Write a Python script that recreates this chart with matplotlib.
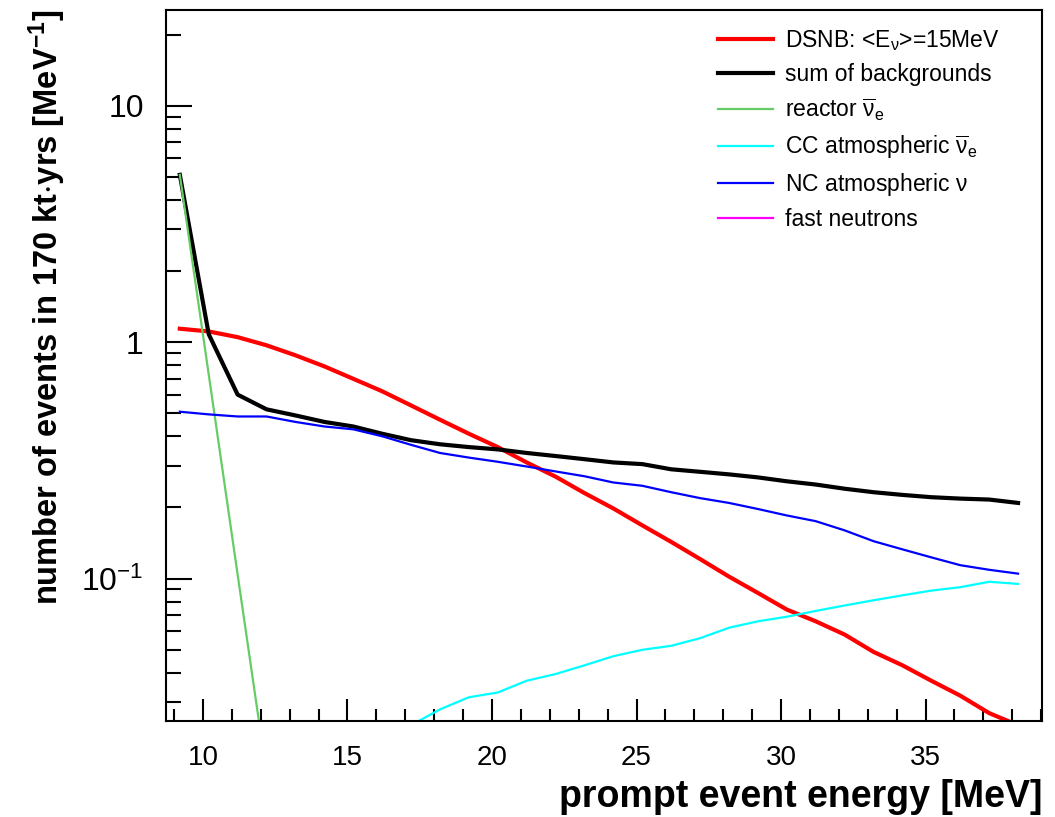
import matplotlib
matplotlib.use("Agg")
import matplotlib.pyplot as plt
from matplotlib.ticker import FixedLocator, FixedFormatter, NullFormatter

plt.rcParams['font.family'] = ['Liberation Sans', 'DejaVu Sans']
plt.rcParams['mathtext.default'] = 'regular'

# bin centres [MeV]
energy = [9.2, 10.2, 11.2, 12.2, 13.2, 14.2, 15.2, 16.2, 17.2, 18.2,
          19.2, 20.2, 21.2, 22.2, 23.2, 24.2, 25.2, 26.2, 27.2, 28.2,
          29.2, 30.2, 31.2, 32.2, 33.2, 34.2, 35.2, 36.2, 37.2, 38.2]

dsnb = [1.14, 1.11, 1.05, 0.97, 0.88, 0.79, 0.70, 0.62, 0.54, 0.47,
        0.41, 0.36, 0.31, 0.27, 0.23, 0.198, 0.168, 0.143, 0.121, 0.102,
        0.087, 0.074, 0.066, 0.058, 0.049, 0.043, 0.037, 0.032, 0.027, 0.024]

background_sum = [5.1, 1.08, 0.60, 0.52, 0.49, 0.46, 0.44, 0.41, 0.385, 0.37,
                  0.36, 0.352, 0.34, 0.33, 0.32, 0.31, 0.305, 0.29, 0.283, 0.276,
                  0.268, 0.258, 0.25, 0.24, 0.232, 0.226, 0.221, 0.218, 0.216, 0.209]

reactor = [5.1, 0.73, 0.104, 0.015]

cc_atmo = [0.009, 0.010, 0.012, 0.013, 0.015, 0.017, 0.019, 0.021, 0.024, 0.028,
           0.0315, 0.033, 0.037, 0.0395, 0.043, 0.047, 0.050, 0.052, 0.056, 0.062,
           0.066, 0.069, 0.073, 0.077, 0.081, 0.085, 0.089, 0.092, 0.097, 0.095]

nc_atmo = [0.508, 0.495, 0.485, 0.485, 0.46, 0.44, 0.428, 0.40, 0.368, 0.34,
           0.325, 0.312, 0.298, 0.284, 0.271, 0.255, 0.247, 0.232, 0.219, 0.209,
           0.197, 0.185, 0.175, 0.16, 0.144, 0.133, 0.123, 0.114, 0.109, 0.105]

# fast neutrons lie entirely below the plotted range
fast_neutrons = []

fig = plt.figure(figsize=(10.55, 8.17), dpi=100)
ax = fig.add_axes([0.1573, 0.1175, 0.8304, 0.8703])

ax.plot(energy, dsnb, color='#ff0000', lw=3, label=r'DSNB: <E$_{\nu}$>=15MeV')
ax.plot(energy, background_sum, color='black', lw=3, label='sum of backgrounds')
ax.plot(energy[:len(reactor)], reactor, color='#66cc66', lw=1.6,
        label=r'reactor $\overline{\nu}_{e}$')
ax.plot(energy, cc_atmo, color='#00ffff', lw=1.6,
        label=r'CC atmospheric $\overline{\nu}_{e}$')
ax.plot(energy, nc_atmo, color='#0000ff', lw=1.6, label=r'NC atmospheric $\nu$')
ax.plot(energy[:len(fast_neutrons)], fast_neutrons, color='#ff00ff', lw=1.6,
        label='fast neutrons')

ax.set_yscale('log')
ax.set_xlim(8.72, 39.03)
ax.set_ylim(0.025, 25.4)

# ticks, ROOT style: inward, only on left and bottom
ax.xaxis.set_major_locator(FixedLocator([10, 15, 20, 25, 30, 35]))
ax.xaxis.set_minor_locator(FixedLocator(list(range(9, 40))))
ax.yaxis.set_major_locator(FixedLocator([0.1, 1, 10]))
ax.yaxis.set_major_formatter(FixedFormatter(['$10^{-1}$', '1', '10']))
ax.yaxis.set_minor_locator(FixedLocator(
    [m * 10.0 ** d for d in (-2, -1, 0, 1) for m in range(2, 10)]))
ax.yaxis.set_minor_formatter(NullFormatter())

ax.tick_params(axis='x', which='major', direction='in', length=16, width=1.5,
               labelsize=20, pad=17)
ax.tick_params(axis='x', which='minor', direction='in', length=8.5, width=1.5)
ax.tick_params(axis='y', which='major', direction='in', length=19, width=1.5,
               labelsize=23, pad=16)
ax.tick_params(axis='y', which='minor', direction='in', length=11, width=1.5)
for s in ax.spines.values():
    s.set_linewidth(1.5)

ax.set_xlabel('prompt event energy [MeV]', fontsize=27, fontweight='bold')
ax.xaxis.set_label_coords(1.0, -0.082)
ax.xaxis.label.set_ha('right')
ax.set_ylabel(r'number of events in 170 kt$\cdot$yrs [MeV$^{-1}$]', fontsize=23.5,
              fontweight='bold')
ax.yaxis.set_label_coords(-0.112, 1.0)
ax.yaxis.label.set_ha('right')

ax.legend(loc='upper left', bbox_to_anchor=(0.630, 0.975), frameon=False,
          fontsize=16.5, handlelength=2.4, handletextpad=0.55,
          labelspacing=0.45, borderpad=0, borderaxespad=0)

fig.savefig('out.png', dpi=100)
